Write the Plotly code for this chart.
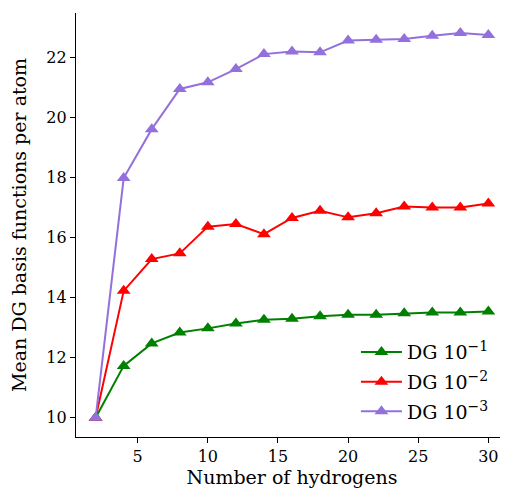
import plotly.graph_objects as go

hydrogens = [2, 4, 6, 8, 10, 12, 14, 16, 18, 20, 22, 24, 26, 28, 30]
dg_1e1 = [10.0, 11.73, 12.48, 12.84, 12.98, 13.14, 13.27, 13.30, 13.38, 13.43, 13.43, 13.48, 13.51, 13.51, 13.54]
dg_1e2 = [10.0, 14.23, 15.29, 15.48, 16.37, 16.46, 16.12, 16.66, 16.90, 16.68, 16.82, 17.04, 17.01, 17.01, 17.14]
dg_1e3 = [10.0, 17.99, 19.62, 20.96, 21.18, 21.62, 22.12, 22.21, 22.18, 22.57, 22.60, 22.62, 22.73, 22.82, 22.76]

SUP = "<sup><span style='font-size:14px'>−{}</span></sup>"
series_names = ["DG 10" + SUP.format(1), "DG 10" + SUP.format(2), "DG 10" + SUP.format(3)]
series_colors = ["green", "red", "mediumpurple"]
x_ticks = [5, 10, 15, 20, 25, 30]
y_ticks = [10, 12, 14, 16, 18, 20, 22]

FONT = "DejaVu Serif"
fig = go.Figure()
for i, (name, vals, col) in enumerate(zip(series_names, [dg_1e1, dg_1e2, dg_1e3], series_colors)):
    fig.add_trace(go.Scatter(
        x=hydrogens, y=vals, name=name, mode="lines+markers",
        legendgroup=f"g{i}",
        line=dict(color=col, width=2),
        marker=dict(symbol="triangle-up", size=12, color=col),
    ))

# page body has an 8px margin, so the figure is sized/placed to compensate
fig.update_layout(
    width=500, height=486,
    margin=dict(l=68, r=0, t=5, b=57),
    plot_bgcolor="white", paper_bgcolor="white",
    font=dict(family=FONT, size=16, color="black"),
    legend=dict(x=0.648, y=0.245, xanchor="left", yanchor="top",
                bgcolor="rgba(0,0,0,0)", font=dict(size=19),
                tracegroupgap=2, traceorder="grouped", itemwidth=41),
    showlegend=True,
)
fig.update_xaxes(
    range=[0.6, 31.4], tickvals=x_ticks, showgrid=False, zeroline=False,
    showline=True, linecolor="black", linewidth=1.2, automargin=False,
    ticks="outside", ticklen=5, tickwidth=1.2, tickcolor="black",
    title=dict(text="Number of hydrogens", standoff=4),
)
fig.update_yaxes(
    range=[9.36, 23.49], tickvals=y_ticks, showgrid=False, zeroline=False,
    showline=True, linecolor="black", linewidth=1.2, automargin=False,
    ticks="outside", ticklen=5, tickwidth=1.2, tickcolor="black",
    title=dict(text="Mean DG basis functions per atom", standoff=14),
)
fig.write_html("out.html")
